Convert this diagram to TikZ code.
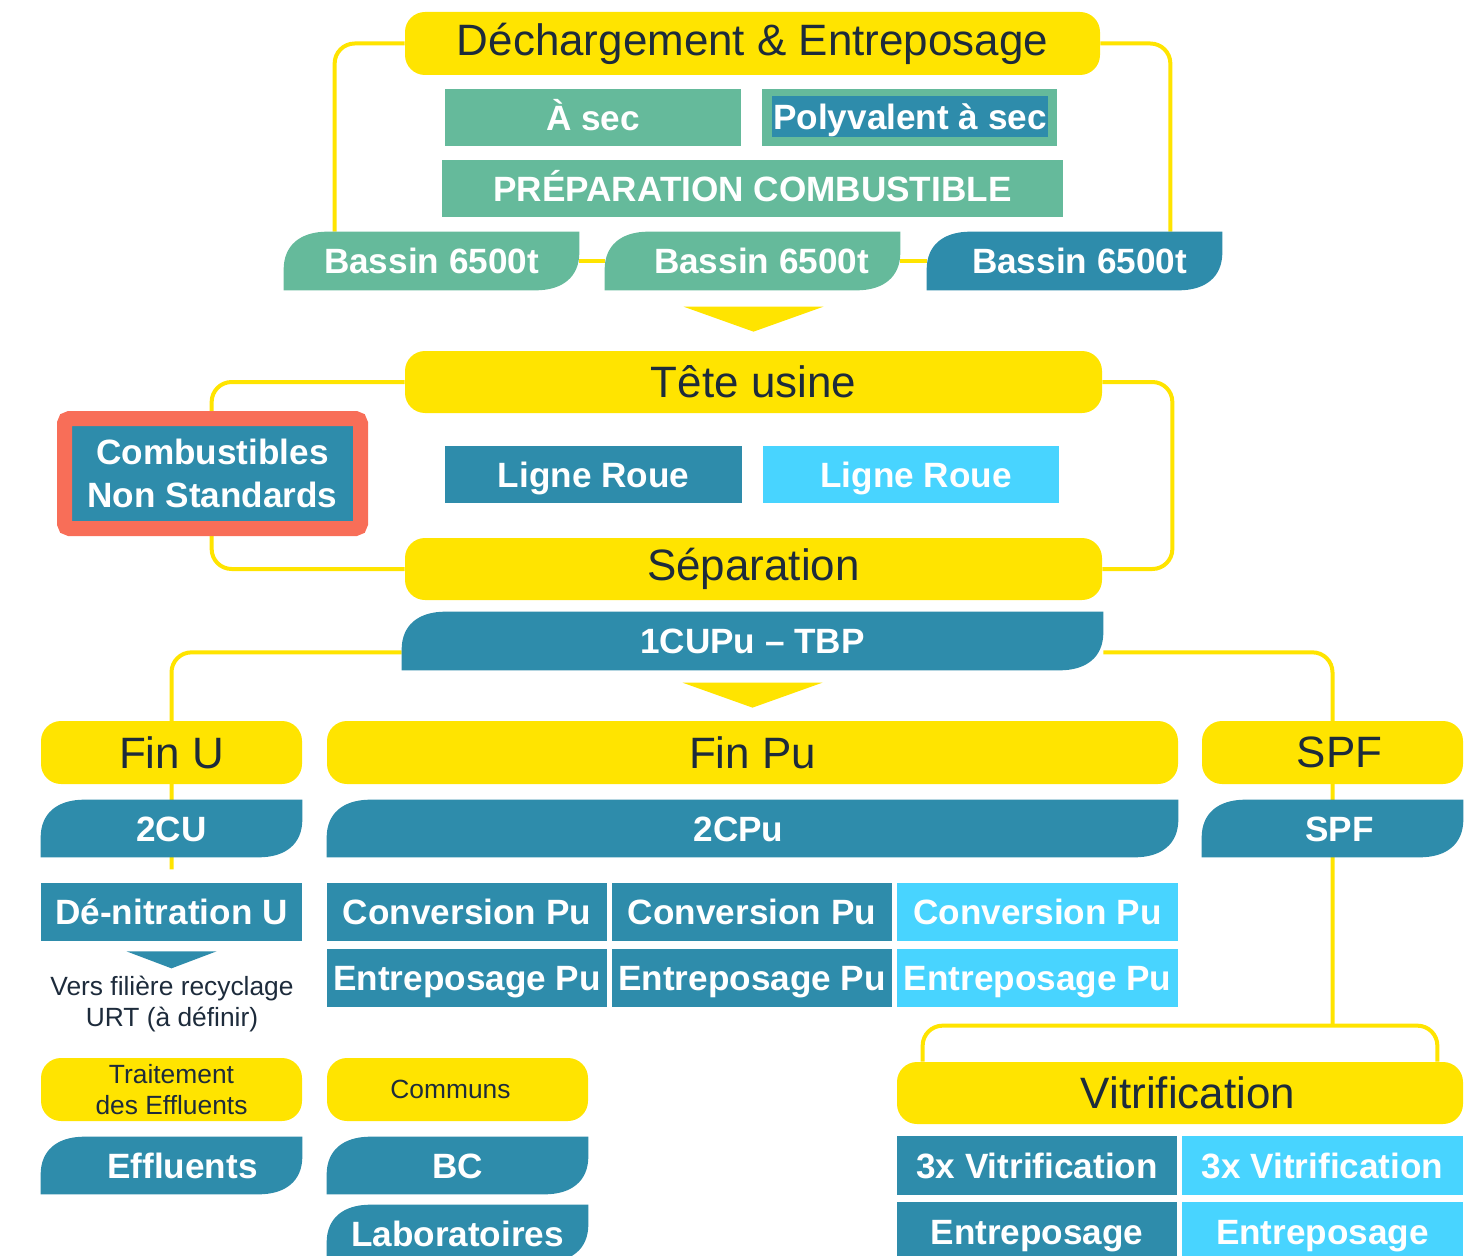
\documentclass[tikz,border=0pt]{standalone}
\usepackage{fontspec}
\setmainfont{Liberation Sans}
\usetikzlibrary{calc}

\definecolor{yel}{HTML}{FFE400}
\definecolor{petrol}{HTML}{2E8CAB}
\definecolor{sky}{HTML}{48D4FF}
\definecolor{mint}{HTML}{65BA9B}
\definecolor{coral}{HTML}{F86E58}
\definecolor{ink}{HTML}{1D2B3B}

\newcommand{\pxu}{0.2mm}
\newcommand{\headfont}{\fontsize{25}{30}\selectfont}
\newcommand{\boxfont}{\fontsize{20}{24}\selectfont\bfseries}
\newcommand{\notefont}{\fontsize{15}{18}\selectfont}

\pgfdeclarelayer{bg}
\pgfdeclarelayer{mid}
\pgfsetlayers{bg,mid,main}

\tikzset{
  sz/.style 2 args={minimum width=#1*\pxu, minimum height=#2*\pxu, inner sep=0pt},
  ybox/.style={fill=yel, rounded corners=4mm, text=ink, font=\headfont},
  flat/.style={fill=#1, text=white, font=\boxfont, text height=17pt, text depth=2.6pt},
  leaf/.style={text=white, font=\boxfont, text height=17pt, text depth=2.6pt},
  link/.style={yel, line width=0.8mm, rounded corners=4mm}
}

\begin{document}
\begin{tikzpicture}[x=0.2mm, y=-0.2mm]
\useasboundingbox (0,0) rectangle (1484,1256);
\clip (0,0) rectangle (1484,1256);

\node[ybox, sz={695}{63}] (dech) at (752.5,43.5) {Déchargement \& Entreposage};
\node[flat=mint, sz={296}{57}] (asec) at (593,117.5) {À sec};
\node[flat=mint, sz={295}{57}] (poly) at (909.5,117.5) {};
\node[flat=petrol, sz={276}{41}] (polytxt) at (910,117) {Polyvalent à sec};
\node[flat=mint, sz={621}{57}] (prep) at (752.5,188.5) {PRÉPARATION COMBUSTIBLE};
\node[leaf, sz={295}{58}] (bas1) at (431.5,261) {Bassin 6500t};
\node[leaf, sz={295}{58}] (bas2) at (752.5,261) {\hspace*{3.6mm}Bassin 6500t};
\node[leaf, sz={295}{58}] (bas3) at (1074.5,261) {\hspace*{2mm}Bassin 6500t};

\node[ybox, sz={697}{62}] (tete) at (753.5,382) {Tête usine};
\fill[yel] ($(tete.north)+(-70,-44)$) -- ++(140,0) -- ($(tete.north)+(0,-19)$) -- cycle;
\node[flat=petrol, sz={297}{57}] (lr1) at (593.5,474.5) {Ligne Roue};
\node[flat=sky, sz={296}{57}] (lr2) at (911,474.5) {\hspace*{2mm}Ligne Roue};
\node[ybox, sz={697}{62}] (sep) at (753.5,569) {Séparation};
\node[fill=petrol, text=white, font=\boxfont, draw=coral, line width=15*\pxu, rounded corners=1mm, align=center, sz={296}{110}] (cns) at (212.5,473.5) {Combustibles\\Non Standards};
\node[leaf, sz={701}{58}] (cupu) at (752.5,641) {1CUPu \textendash{} TBP};

\node[ybox, sz={261}{63}] (finu) at (171.5,752.5) {Fin U};
\node[ybox, sz={851}{63}] (finpu) at (752.5,752.5) {Fin Pu};
\node[ybox, sz={261}{63}] (spf) at (1332.5,752.5) {\hspace*{2.8mm}SPF};
\fill[yel] ($(finpu.north)+(-70,-38)$) -- ++(140,0) -- ($(finpu.north)+(0,-13)$) -- cycle;
\node[leaf, sz={261}{57}] (cu2) at (171.5,828.5) {2CU};
\node[leaf, sz={851}{57}] (cpu2) at (752.5,828.5) {2CPu\hspace*{5.6mm}};
\node[leaf, sz={261}{57}] (spfb) at (1332.5,828.5) {\hspace*{2.8mm}SPF};

\node[flat=petrol, sz={261}{58}] (denit) at (171.5,912) {Dé-nitration U};
\fill[petrol] ($(denit.south)+(-45,10)$) -- ++(90,0) -- ($(denit.south)+(0,27)$) -- cycle;
\node[ink, font=\notefont, align=center] (vers) at (172,1004) {Vers filière recyclage\\URT (à définir)};
\node[flat=petrol, sz={280}{58}] (conv1) at (467,912) {Conversion Pu};
\node[flat=petrol, sz={280}{58}] (conv2) at (752,912) {Conversion Pu};
\node[flat=sky, sz={281}{58}] (conv3) at (1037.5,912) {Conversion Pu};
\node[flat=petrol, sz={280}{58}] (entp1) at (467,978) {Entreposage Pu};
\node[flat=petrol, sz={280}{58}] (entp2) at (752,978) {Entreposage Pu};
\node[flat=sky, sz={281}{58}] (entp3) at (1037.5,978) {Entreposage Pu};

\node[ybox, font=\notefont, align=center, sz={261}{63}] (trait) at (171.5,1089.5) {Traitement\\des Effluents};
\node[ybox, font=\notefont, sz={261}{63}] (comm) at (457.5,1089.5) {\hspace*{-2.8mm}Communs};
\node[leaf, sz={261}{57}] (eff) at (171.5,1165.5) {\hspace*{4.4mm}Effluents};
\node[leaf, sz={261}{57}] (bc) at (457.5,1165.5) {BC};
\node[leaf, sz={261}{57}] (labo) at (457.5,1233.5) {Laboratoires};

\node[ybox, sz={566}{62}] (vitr) at (1180,1093) {\hspace*{3.2mm}Vitrification};
\node[flat=petrol, sz={280}{59}] (vit1) at (1037,1165.5) {3x Vitrification};
\node[flat=sky, sz={281}{59}] (vit2) at (1322.5,1165.5) {3x Vitrification};
\node[flat=petrol, sz={280}{60}] (ent1) at (1037,1232) {Entreposage};
\node[flat=sky, sz={281}{60}] (ent2) at (1322.5,1232) {Entreposage};

% leaf shaped boxes
\begin{pgfonlayer}{mid}
\foreach \n/\c in {bas1/mint, bas2/mint, bas3/petrol, cupu/petrol, cu2/petrol, cpu2/petrol, spfb/petrol, eff/petrol, bc/petrol, labo/petrol}
  \fill[\c] (\n.south west) -- ($(\n.north west)+(0,38)$) .. controls ($(\n.north west)+(0,14)$) and ($(\n.north west)+(16,0)$) .. ($(\n.north west)+(44,0)$)
    -- (\n.north east) -- ($(\n.south east)+(0,-38)$) .. controls ($(\n.south east)+(0,-14)$) and ($(\n.south east)+(-16,0)$) .. ($(\n.south east)+(-44,0)$) -- cycle;
\end{pgfonlayer}

\begin{pgfonlayer}{bg}
\draw[link] (dech.west) -| ($(bas1.north west)+(51,0)$);
\draw[link] (dech.east) -| ($(bas3.north east)+(-52,0)$);
\draw[link] (bas1) -- (bas2);
\draw[link] (bas2) -- (bas3);
\draw[link] (tete.east) -- ++(70,0) |- (sep.east);
\draw[link] (tete.west) -- ++(-193,0) |- (sep.west);
\draw[link] ($(cupu.south west)+(0,-18)$) -| ($(cu2.south)+(0,12)$);
\coordinate (vj) at ($(spfb.south |- vitr.north)+(0,-36)$);
\draw[link] ($(cupu.south east)+(0,-18)$) -| (vj);
\draw[link] ($(vitr.north west)+(26,0)$) |- (vj) -| ($(vitr.north east)+(-26,0)$);
\end{pgfonlayer}
\end{tikzpicture}
\end{document}
